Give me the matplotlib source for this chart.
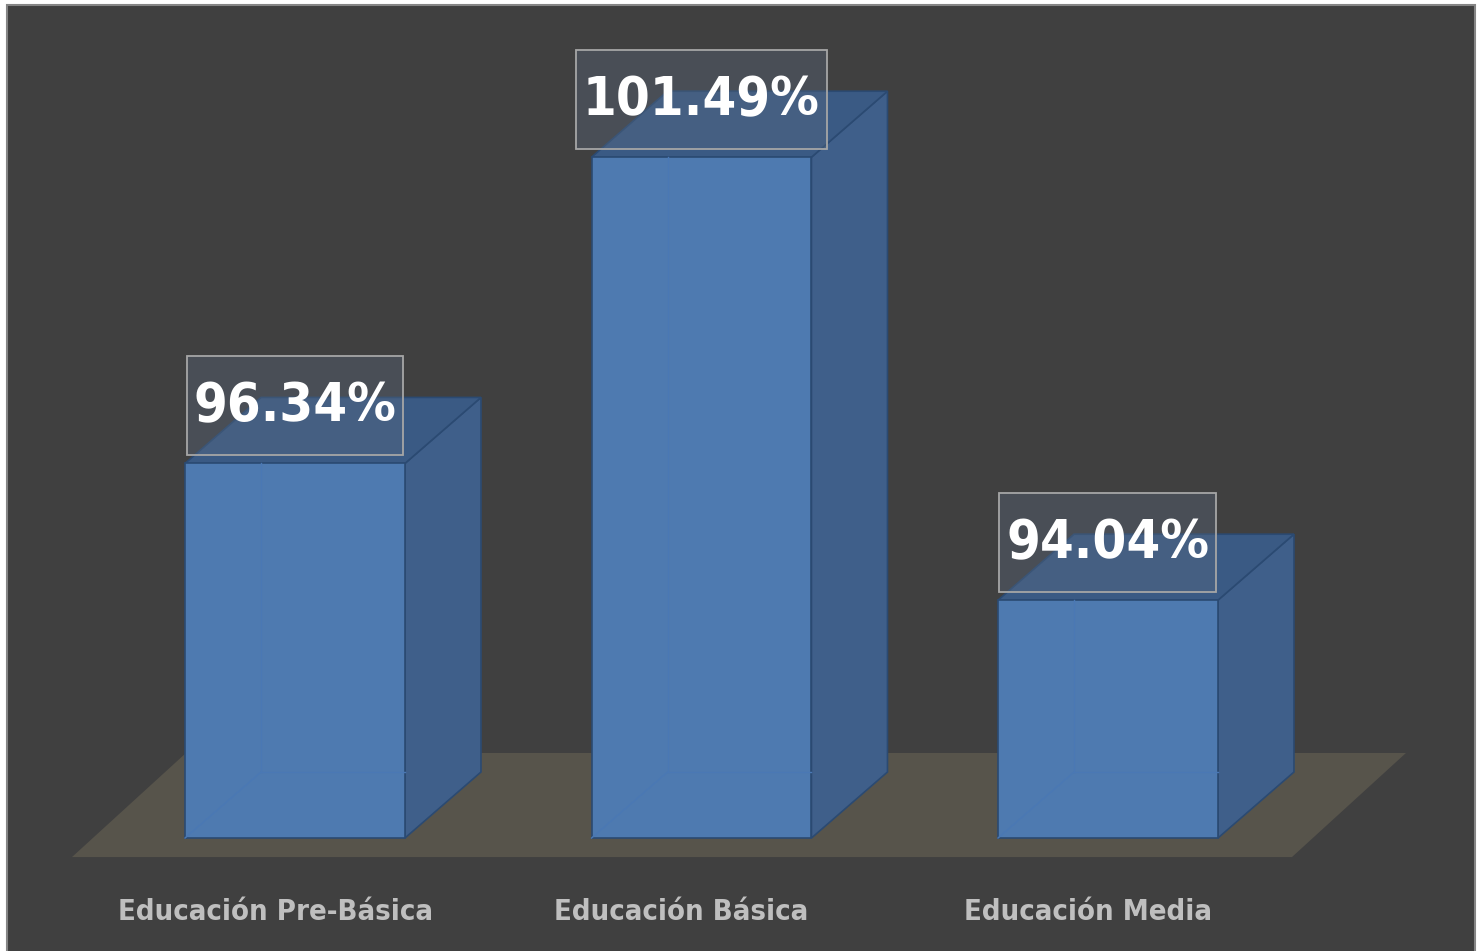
import matplotlib
matplotlib.use("Agg")
import matplotlib.pyplot as plt
from matplotlib.patches import Polygon, Rectangle

# data
categories = ["Educación Pre-Básica", "Educación Básica", "Educación Media"]
values = [96.34, 101.49, 94.04]
value_labels = ["96.34%", "101.49%", "94.04%"]

# look
bg = "#404040"
front_col = "#4e7ab0"
side_col = "#3f5f8a"
top_col = "#3a5a84"
edge_col = "#2b4a72"
floor_col = "#57544b"
font = ["DejaVu Sans"]

W, H = 1484, 951
fig = plt.figure(figsize=(W / 100, H / 100), dpi=100)
fig.patch.set_facecolor("white")

# chart area panel
fig.patches.append(Rectangle((7 / W, -0.01), 1468 / W, 1 - 5 / H + 0.01,
                             transform=fig.transFigure, facecolor=bg,
                             edgecolor="#858585", linewidth=1.5, zorder=-10))

ax = fig.add_axes([0, 0, 1, 1])
ax.set_facecolor("none")
ax.set_xlim(-0.7257, 2.925)
ax.set_ylim(88.14, 104.134)
ax.axis("off")

base = 90.04
width = 0.541
ddx, ddy = 0.187, 1.11          # bar depth offset
fdx = 0.2804                    # floor depth offset
floor_front, floor_back = 89.72, 91.47

# floor
ax.add_patch(Polygon([(-0.5486, floor_front), (2.4526, floor_front),
                      (2.4526 + fdx, floor_back), (-0.5486 + fdx, floor_back)],
                     closed=True, facecolor=floor_col, edgecolor="none", zorder=1))

x = range(len(values))
bars = ax.bar(x, [v - base for v in values], width=width, bottom=base,
              color=front_col, edgecolor=edge_col, linewidth=1.2, zorder=4)

labels = []
for i, v in enumerate(values):
    l, r = i - width / 2, i + width / 2
    # side face
    ax.add_patch(Polygon([(r, base), (r + ddx, base + ddy), (r + ddx, v + ddy), (r, v)],
                         closed=True, facecolor=side_col, edgecolor=edge_col,
                         linewidth=1.2, zorder=3))
    # top face
    ax.add_patch(Polygon([(l, v), (r, v), (r + ddx, v + ddy), (l + ddx, v + ddy)],
                         closed=True, facecolor=top_col, edgecolor=edge_col,
                         linewidth=1.2, zorder=3))
    # faint hidden back edges seen through the bar
    ax.plot([l, l + ddx], [base, base + ddy], color="#4a78b4", lw=1, zorder=5)
    ax.plot([l + ddx, r], [base + ddy, base + ddy], color="#4a78b4", lw=1, zorder=5)
    ax.plot([l + ddx, l + ddx], [base + ddy, v], color="#4a78b4", lw=1, zorder=5)

    # value label
    t = ax.annotate(value_labels[i], xy=(i, v), xytext=(0, 41), textcoords="offset points",
                    ha="center", va="center", color="white", fontsize=39,
                    fontweight="bold", fontstretch="condensed", family=font, zorder=8)
    labels.append(t)
    # category label
    ax.text(i - 0.049, 88.80, categories[i], ha="center", va="center",
            color="#bfbfbf", fontsize=21, fontweight="bold", fontstretch="condensed",
            family=font, zorder=6)

# boxes behind value labels, sized from the rendered text
fig.canvas.draw()
rend = fig.canvas.get_renderer()
for i, (t, v) in enumerate(zip(labels, values)):
    bb = t.get_window_extent(rend)
    cx, top = ax.transData.transform((i, v))
    bw = bb.width + 14
    y0 = top + 8
    ax.add_patch(Rectangle(((cx - bw / 2) / W, y0 / H), bw / W, 99 / H,
                           transform=fig.transFigure, facecolor="#5a6a80", alpha=0.35,
                           edgecolor="none", zorder=7))
    ax.add_patch(Rectangle(((cx - bw / 2) / W, y0 / H), bw / W, 99 / H,
                           transform=fig.transFigure, facecolor="none",
                           edgecolor="#a6a6a6", linewidth=1.3, zorder=7))

plt.savefig("out.png", dpi=100, facecolor=fig.get_facecolor())
